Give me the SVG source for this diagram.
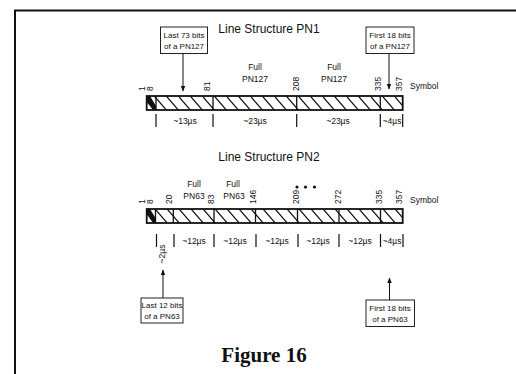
<svg xmlns="http://www.w3.org/2000/svg" width="516" height="374" viewBox="0 0 516 374">
<style>
.t{font-family:"Liberation Sans",Arial,sans-serif;fill:#111}
.s{font-size:8.5px}
.b{font-size:8px}
.ti{font-size:12px}
.bar{fill:url(#h);stroke:#111;stroke-width:1.8}
.div{stroke:#111;stroke-width:1.3}
.tick{stroke:#111;stroke-width:1.2}
.box{fill:#fff;stroke:#222;stroke-width:1}
.ar{stroke:#111;stroke-width:1;marker-end:url(#a)}
</style>
<defs>
<pattern id="h" patternUnits="userSpaceOnUse" width="12" height="14">
<path d="M-12,-14 L24,28 M0,-14 L24,14 M-12,0 L12,28" stroke="#111" stroke-width="1.2" fill="none"/>
</pattern>
<marker id="a" viewBox="0 0 10 10" refX="9" refY="5" markerWidth="6" markerHeight="7" orient="auto">
<path d="M0,1 L10,5 L0,9 z" fill="#111"/>
</marker>
</defs>
<g id="frame" fill="none" stroke="#111" stroke-width="2">
<path d="M15,374 L15,10.5 L516,10.5"/>
</g>
<g id="pn1">
<text class="t ti" x="269" y="33" text-anchor="middle">Line Structure PN1</text>
<g id="pn1-bar">
<rect class="bar" x="146.7" y="96" width="256" height="14"/>
<path d="M146.7,96 L150,96 L156,106 L156,110 L153,110 L146.7,101 Z" fill="#111"/>
<path class="div" d="M156,96 V110 M213,96 V110 M296.7,96 V110 M380.3,96 V110"/>
</g>
<g id="pn1-labels" class="t s">
<text transform="translate(145,91) rotate(-90)">1</text>
<text transform="translate(153,91) rotate(-90)">8</text>
<text transform="translate(210,91) rotate(-90)">81</text>
<text transform="translate(299,91) rotate(-90)">208</text>
<text transform="translate(381,91) rotate(-90)">335</text>
<text transform="translate(402,91) rotate(-90)">357</text>
<text x="410" y="89">Symbol</text>
<text x="255" y="70" text-anchor="middle">Full</text>
<text x="255" y="82" text-anchor="middle">PN127</text>
<text x="334" y="70" text-anchor="middle">Full</text>
<text x="334" y="82" text-anchor="middle">PN127</text>
</g>
<g id="pn1-dur">
<path class="tick" d="M156,114 V127 M213,114 V127 M296.7,114 V127 M380.3,114 V127 M402.7,114 V127"/>
<g class="t s" text-anchor="middle">
<text x="185" y="124">~13µs</text>
<text x="255" y="124">~23µs</text>
<text x="338" y="124">~23µs</text>
<text x="392" y="124">~4µs</text>
</g>
</g>
<g id="pn1-last">
<rect class="box" x="160.5" y="27" width="47" height="26.5"/>
<text class="t b" x="184" y="38" text-anchor="middle">Last 73 bits</text>
<text class="t b" x="184" y="49" text-anchor="middle">of a PN127</text>
</g>
<g id="pn1-first">
<rect class="box" x="366" y="27" width="48" height="26.5"/>
<text class="t b" x="390" y="38" text-anchor="middle">First 18 bits</text>
<text class="t b" x="390" y="49" text-anchor="middle">of a PN127</text>
</g>
</g>
<g id="pn2">
<text class="t ti" x="269" y="161" text-anchor="middle">Line Structure PN2</text>
<g id="pn2-bar">
<rect class="bar" x="146.7" y="209" width="256" height="14"/>
<path d="M146.7,209 L150,209 L155.5,218 L155.5,223 L153,223 L146.7,214 Z" fill="#111"/>
<path class="div" d="M155.5,209 V223 M173.3,209 V223 M214,209 V223 M255.5,209 V223 M297.5,209 V223 M339,209 V223 M380.5,209 V223"/>
</g>
<g id="pn2-labels" class="t s">
<text transform="translate(145,204) rotate(-90)">1</text>
<text transform="translate(153,204) rotate(-90)">8</text>
<text transform="translate(172,204) rotate(-90)">20</text>
<text transform="translate(214,204) rotate(-90)">83</text>
<text transform="translate(256,204) rotate(-90)">146</text>
<text transform="translate(299,204) rotate(-90)">209</text>
<text transform="translate(341,204) rotate(-90)">272</text>
<text transform="translate(382,204) rotate(-90)">335</text>
<text transform="translate(402,204) rotate(-90)">357</text>
<text x="410" y="203">Symbol</text>
<text x="194" y="187" text-anchor="middle">Full</text>
<text x="194" y="199" text-anchor="middle">PN63</text>
<text x="233" y="187" text-anchor="middle">Full</text>
<text x="234" y="199" text-anchor="middle">PN63</text>
</g>
<g id="dots" fill="#111">
<circle cx="297" cy="187" r="1.6"/>
<circle cx="305.5" cy="187" r="1.6"/>
<circle cx="314.5" cy="187" r="1.6"/>
</g>
<g id="pn2-dur">
<path class="tick" d="M156.5,234 V247 M174,234 V247 M214,234 V247 M256,234 V247 M298,234 V247 M339,234 V247 M380.5,234 V247 M403,234 V247"/>
<g class="t s" text-anchor="middle">
<text transform="translate(165,254) rotate(-90)">~2µs</text>
<text x="194" y="244">~12µs</text>
<text x="235" y="244">~12µs</text>
<text x="277" y="244">~12µs</text>
<text x="318" y="244">~12µs</text>
<text x="360" y="244">~12µs</text>
<text x="392" y="244">~4µs</text>
</g>
</g>
<g id="pn2-last">
<rect class="box" x="141" y="298" width="42" height="25"/>
<text class="t b" x="162" y="308" text-anchor="middle">Last 12 bits</text>
<text class="t b" x="162" y="318.5" text-anchor="middle">of a PN63</text>
</g>
<g id="pn2-first">
<rect class="box" x="366" y="300" width="48.5" height="26.5"/>
<text class="t b" x="390" y="311" text-anchor="middle">First 18 bits</text>
<text class="t b" x="390" y="322" text-anchor="middle">of a PN63</text>
</g>
</g>
<g id="connectors">
<path class="ar" d="M183,53.5 V91"/>
<path class="ar" d="M389,53.5 V89"/>
<path class="ar" d="M163,298 V270"/>
<path class="ar" d="M389.5,300 V278"/>
</g>
<text x="264" y="362" text-anchor="middle" font-family="'Liberation Serif','Times New Roman',serif" font-weight="bold" font-size="21" fill="#111">Figure 16</text>
</svg>
